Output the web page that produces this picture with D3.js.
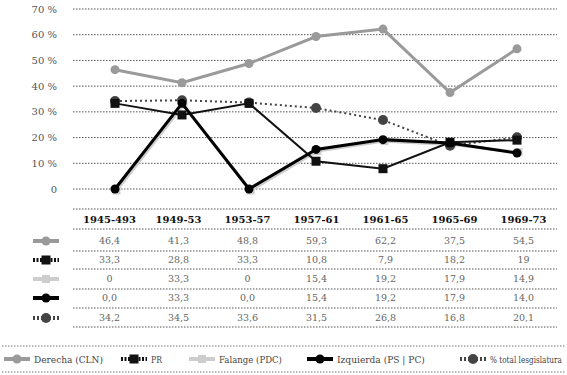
<!DOCTYPE html>
<html>
<head>
<meta charset="utf-8">
<script src="https://cdn.jsdelivr.net/npm/d3@7"></script>
<style>
  body { margin: 0; background: #fff; }
</style>
</head>
<body>
<svg id="chart" width="567" height="375" font-family="DejaVu Serif, Liberation Serif, serif"></svg>
<script>
// periods (column headers, as printed)
const periods = ["1945-493", "1949-53", "1953-57", "1957-61", "1961-65", "1965-69", "1969-73"];

// series values (%)
const derecha   = [46.4, 41.3, 48.8, 59.3, 62.2, 37.5, 54.5];
const pr        = [33.3, 28.8, 33.3, 10.8, 7.9, 18.2, 19];
const falange   = [0, 33.3, 0, 15.4, 19.2, 17.9, 14.9];
const izquierda = [0.0, 33.3, 0.0, 15.4, 19.2, 17.9, 14.0];
const total     = [34.2, 34.5, 33.6, 31.5, 26.8, 16.8, 20.1];

const yTicks = [0, 10, 20, 30, 40, 50, 60, 70];

const series = [
  { name: "Derecha (CLN)", values: derecha, color: "#9a9a9a", width: 3, marker: "circle", size: 4.5, fixed: false },
  { name: "PR", values: pr, color: "#111", width: 2, marker: "square", size: 9, fixed: false, legendDash: "2,1.5" },
  { name: "Falange (PDC)", values: falange, color: "#cdcdcd", width: 3, marker: "square", size: 8, fixed: false, shift: 1.5 },
  { name: "Izquierda (PS | PC)", values: izquierda, color: "#000", width: 3, marker: "circle", size: 4.5, fixed: true },
  { name: "% total lesgislatura", values: total, color: "#444", width: 2, dash: "2,3", marker: "circle", size: 5, fixed: true, legendDash: "2,2" }
];
const drawOrder = [0, 2, 4, 1, 3];

const svg = d3.select("#chart");

// ---- plot area ----
const x = d3.scalePoint().domain(periods).range([115, 517]);
const y = d3.scaleLinear().domain([0, 70]).range([189, 9]);

const grid = svg.append("g");
grid.selectAll("line")
  .data(yTicks)
  .join("line")
    .attr("x1", 73).attr("x2", 557)
    .attr("y1", d => y(d)).attr("y2", d => y(d))
    .attr("stroke", "#555")
    .attr("stroke-width", 1)
    .attr("stroke-dasharray", "1.5,1.5");

grid.selectAll("text")
  .data(yTicks)
  .join("text")
    .attr("x", 57)
    .attr("y", d => y(d))
    .attr("dy", "0.35em")
    .attr("text-anchor", "end")
    .attr("font-size", 10)
    .attr("fill", "#555")
    .text(d => d === 0 ? "0" : d + " %");

const line = d3.line().x((d, i) => x(periods[i])).y(d => y(d));

function drawMarker(sel, s, cx, cy) {
  if (s.marker === "circle") {
    sel.append("circle").attr("cx", cx).attr("cy", cy).attr("r", s.size).attr("fill", s.color);
  } else {
    sel.append("rect")
      .attr("x", cx - s.size / 2).attr("y", cy - s.size / 2)
      .attr("width", s.size).attr("height", s.size)
      .attr("fill", s.color);
  }
}

drawOrder.forEach(k => {
  const s = series[k];
  const g = svg.append("g");
  if (s.shift) g.attr("transform", `translate(${s.shift},${s.shift})`);
  g.append("path")
    .datum(s.values)
    .attr("d", line)
    .attr("fill", "none")
    .attr("stroke", s.color)
    .attr("stroke-width", s.width)
    .attr("stroke-dasharray", s.dash || null);
  s.values.forEach((v, i) => drawMarker(g, s, x(periods[i]), y(v)));
});

// ---- table ----
const col = d3.scaleBand().domain(periods).range([75, 558]);
const rowLines = [209, 229, 251, 269, 289, 308, 327];
const rowY = [219, 241, 260, 279, 298, 318];

svg.append("g").selectAll("line")
  .data(rowLines)
  .join("line")
    .attr("x1", 73).attr("x2", 557)
    .attr("y1", d => d).attr("y2", d => d)
    .attr("stroke", "#555")
    .attr("stroke-dasharray", "1.5,1.5");

svg.append("g").selectAll("text")
  .data(periods)
  .join("text")
    .attr("x", d => col(d) + col.bandwidth() / 2)
    .attr("y", rowY[0])
    .attr("dy", "0.35em")
    .attr("text-anchor", "middle")
    .attr("font-size", 10)
    .attr("font-weight", "bold")
    .attr("fill", "#111")
    .text(d => d);

const fmt = (v, fixed) => (fixed ? v.toFixed(1) : String(v)).replace(".", ",");

function legendKey(g, s, cx, cy, half) {
  g.append("line")
    .attr("x1", cx - half).attr("x2", cx + half)
    .attr("y1", cy).attr("y2", cy)
    .attr("stroke", s.color)
    .attr("stroke-width", 4)
    .attr("stroke-dasharray", s.legendDash || null);
  drawMarker(g, s, cx, cy);
}

series.forEach((s, r) => {
  const cy = rowY[r + 1];
  const g = svg.append("g");
  legendKey(g, s, 46, cy, 13);
  g.selectAll("text")
    .data(s.values)
    .join("text")
      .attr("x", (d, i) => col(periods[i]) + col.bandwidth() / 2)
      .attr("y", cy)
      .attr("dy", "0.35em")
      .attr("text-anchor", "middle")
      .attr("font-size", 9.5)
      .attr("fill", "#666")
      .text(d => fmt(d, s.fixed));
});

// ---- legend ----
svg.append("g").selectAll("line")
  .data([346, 372])
  .join("line")
    .attr("x1", 2).attr("x2", 565)
    .attr("y1", d => d).attr("y2", d => d)
    .attr("stroke", "#777")
    .attr("stroke-dasharray", "1.5,1.5");

// the printed legend uses a condensed face: squeeze the text horizontally
const legendX = [17, 134, 202, 320, 473];
const legendW = [69, 11, 63, 88, 72];
series.forEach((s, i) => {
  const g = svg.append("g");
  legendKey(g, s, legendX[i], 359, 13);
  const t = g.append("text")
    .attr("y", 0)
    .attr("dy", "0.35em")
    .attr("font-size", 10)
    .attr("fill", "#444")
    .text(s.name);
  const w = t.node().getComputedTextLength();
  const sx = Math.min(1, legendW[i] / w);
  t.attr("transform", `translate(${legendX[i] + 17},359) scale(${sx},1)`);
});
</script>
</body>
</html>
